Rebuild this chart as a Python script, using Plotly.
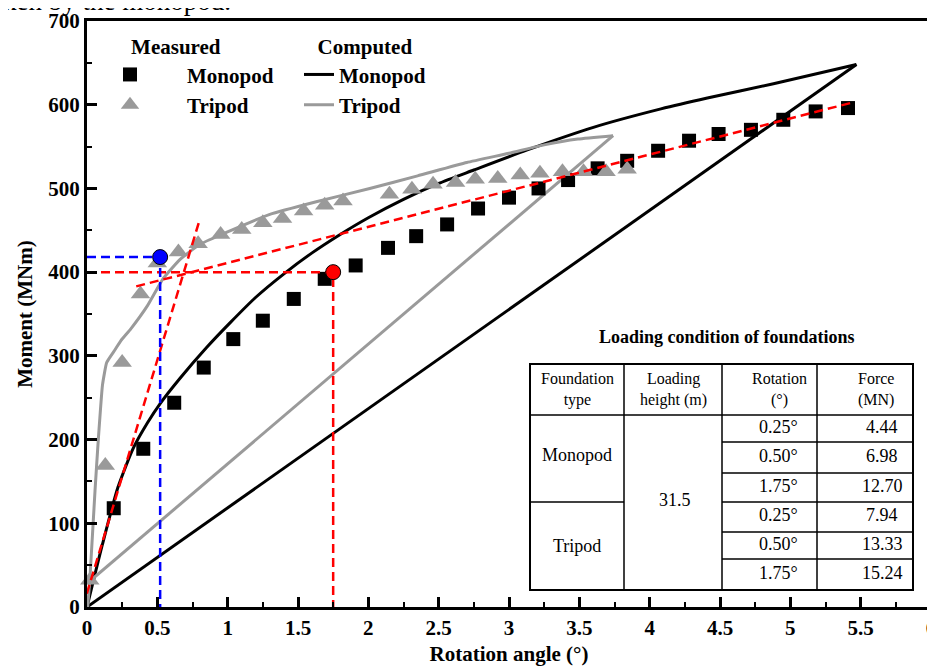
import plotly.graph_objects as go

# ---------------- data ----------------
# Measured monopod (squares)
mono_meas_x = [0.0, 0.19, 0.40, 0.62, 0.83, 1.04, 1.25, 1.47, 1.69, 1.91, 2.14, 2.34, 2.56,
               2.78, 3.00, 3.21, 3.42, 3.63, 3.84, 4.06, 4.28, 4.49, 4.72, 4.95, 5.18, 5.41]
mono_meas_y = [-4, 118, 189, 244, 286, 320, 342, 368, 392, 408, 429, 443, 457,
               476, 489, 500, 510, 524, 533, 545, 557, 565, 570, 582, 592, 596]

# Measured tripod (triangles)
tri_meas_x = [0.02, 0.13, 0.25, 0.38, 0.50, 0.65, 0.79, 0.95, 1.10, 1.25, 1.39, 1.54, 1.69,
              1.82, 2.15, 2.31, 2.46, 2.62, 2.76, 2.92, 3.08, 3.22, 3.38, 3.53, 3.69, 3.84]
tri_meas_y = [32, 169, 292, 374, 411, 424, 434, 445, 451, 459, 464, 473, 480,
              485, 493, 499, 505, 507, 511, 512, 516, 518, 520, 520, 520, 523]

# Computed monopod: loading branch and unloading branch
mono_load_x = [0.0, 0.11, 0.22, 0.33, 0.43, 0.52, 0.66, 0.85, 1.02, 1.20, 1.40, 1.60, 1.80,
               2.00, 2.25, 2.50, 2.75, 3.13, 3.60, 4.08, 4.41, 4.88, 5.47]
mono_load_y = [0, 75, 143, 190, 220, 243, 273, 310, 340, 370, 398, 423, 445,
               465, 487, 506, 522, 546, 573, 595, 608, 625, 648]
mono_unload_x = [5.47, 0.0]
mono_unload_y = [648, 0]

# Computed tripod: loading branch and unloading branch
tri_load_x = [0.005, 0.02, 0.057, 0.08, 0.11, 0.14, 0.19, 0.24, 0.31, 0.43, 0.54, 0.66, 0.80,
              0.97, 1.18, 1.30, 1.63, 2.01, 2.35, 2.70, 3.00, 3.25, 3.49, 3.74]
tri_load_y = [0, 32, 139, 199, 265, 292, 305, 318, 332, 360, 392, 415, 433,
              446, 461, 469, 484, 500, 515, 531, 542, 552, 559, 563]
tri_unload_x = [3.74, 0.0]
tri_unload_y = [563, 28]

# Red construction lines
red_steep_x = [-0.03, 0.80]
red_steep_y = [0, 462]
red_shallow_x = [0.35, 5.45]
red_shallow_y = [383, 603]
red_point_x = [1.75]
red_point_y = [400]
blue_point_x = [0.52]
blue_point_y = [418]

# Table content
tbl_title = "Loading condition of foundations"
tbl_header = ["Foundation<br>type", "Loading<br>height (m)", "Rotation<br>(°)", "Force<br>(MN)"]
tbl_types = ["Monopod", "Tripod"]
tbl_height = "31.5"
tbl_rotation = ["0.25°", "0.50°", "1.75°", "0.25°", "0.50°", "1.75°"]
tbl_force = ["4.44", "6.98", "12.70", "7.94", "13.33", "15.24"]

# ---------------- layout constants ----------------
OFF = 8                      # page body margin around the plot div
W, H = 935 - OFF, 666 - OFF
ML, MR, MT, MB = 87 - OFF, 4, 21 - OFF, 59
PW = W - ML - MR
PH = H - MT - MB
FONT = "Liberation Serif"
GRAY = "#9a9a9a"


def fx(px):
    """page pixel x -> paper fraction"""
    return (px - OFF - ML) / PW


def fy(py):
    """page pixel y -> paper fraction"""
    return (H - MB - (py - OFF)) / PH


fig = go.Figure()

# computed curves
fig.add_trace(go.Scatter(x=mono_load_x, y=mono_load_y, mode="lines", name="Monopod",
                         line=dict(color="black", width=3, shape="spline", smoothing=0.6),
                         legend="legend2", legendrank=1, legendgroup="cm"))
fig.add_trace(go.Scatter(x=mono_unload_x, y=mono_unload_y, mode="lines", showlegend=False,
                         line=dict(color="black", width=3), legendgroup="cm"))
fig.add_trace(go.Scatter(x=tri_load_x, y=tri_load_y, mode="lines", name="Tripod",
                         line=dict(color=GRAY, width=3, shape="spline", smoothing=0.4),
                         legend="legend2", legendrank=2, legendgroup="ct"))
fig.add_trace(go.Scatter(x=tri_unload_x, y=tri_unload_y, mode="lines", showlegend=False,
                         line=dict(color=GRAY, width=3), legendgroup="ct"))

# measured points
fig.add_trace(go.Scatter(x=mono_meas_x, y=mono_meas_y, mode="markers", name="Monopod",
                         marker=dict(symbol="square", size=14, color="black"),
                         cliponaxis=False, legend="legend", legendrank=1, legendgroup="mm"))
fig.add_trace(go.Scatter(x=tri_meas_x, y=tri_meas_y, mode="markers", name="Tripod",
                         marker=dict(symbol="triangle-up", size=17, color=GRAY),
                         cliponaxis=False, legend="legend", legendrank=2, legendgroup="mt"))

# construction lines
dash = "9px,5px"
fig.add_trace(go.Scatter(x=red_steep_x, y=red_steep_y, mode="lines", showlegend=False,
                         line=dict(color="red", width=2.5, dash=dash)))
fig.add_trace(go.Scatter(x=red_shallow_x, y=red_shallow_y, mode="lines", showlegend=False,
                         line=dict(color="red", width=2.5, dash=dash)))
fig.add_trace(go.Scatter(x=[0, red_point_x[0], red_point_x[0]],
                         y=[red_point_y[0], red_point_y[0], 0], mode="lines", showlegend=False,
                         line=dict(color="red", width=2.5, dash=dash)))
fig.add_trace(go.Scatter(x=[0, blue_point_x[0], blue_point_x[0]],
                         y=[blue_point_y[0], blue_point_y[0], 0], mode="lines", showlegend=False,
                         line=dict(color="blue", width=2.5, dash=dash)))
fig.add_trace(go.Scatter(x=red_point_x, y=red_point_y, mode="markers", showlegend=False,
                         marker=dict(symbol="circle", size=15, color="red",
                                     line=dict(color="black", width=1))))
fig.add_trace(go.Scatter(x=blue_point_x, y=blue_point_y, mode="markers", showlegend=False,
                         marker=dict(symbol="circle", size=15, color="blue",
                                     line=dict(color="black", width=1))))

# ---------------- table (shapes + annotations) ----------------
cols = [530, 624, 722, 817, 913]
top, hdr_bot = 364, 415
rows = [415, 442, 473, 502, 532, 559, 590]
bot = rows[-1]
shapes = []


def hline(x0, x1, y, w=1.5):
    shapes.append(dict(type="line", xref="paper", yref="paper", x0=fx(x0), x1=fx(x1),
                       y0=fy(y), y1=fy(y), line=dict(color="black", width=w)))


def vline(x, y0, y1, w=1.5):
    shapes.append(dict(type="line", xref="paper", yref="paper", x0=fx(x), x1=fx(x),
                       y0=fy(y0), y1=fy(y1), line=dict(color="black", width=w)))


shapes.append(dict(type="rect", xref="paper", yref="paper", x0=fx(cols[0]), x1=fx(cols[-1]),
                   y0=fy(bot), y1=fy(top), line=dict(color="black", width=2)))
for c in cols[1:-1]:
    vline(c, top, bot)
hline(cols[0], cols[-1], hdr_bot)
hline(cols[0], cols[1], rows[3])
for r in rows[1:-1]:
    hline(cols[2], cols[4], r)

annotations = []


def txt(s, px, py, size=18, bold=False, xanchor="center"):
    annotations.append(dict(text=s, xref="paper", yref="paper", x=fx(px), y=fy(py),
                            xanchor=xanchor, yanchor="middle", showarrow=False,
                            font=dict(family=FONT, size=size, color="black",
                                      weight="bold" if bold else "normal")))


txt(tbl_title, 727, 337, size=18, bold=True)
hdr_x = [577, 673, 779, 876]
for s, x in zip(tbl_header, hdr_x):
    txt(s, x, 389, size=16)
txt(tbl_types[0], 577, 455)
txt(tbl_types[1], 577, 546)
txt(tbl_height, 675, 500)
for i in range(6):
    yc = (rows[i] + rows[i + 1]) / 2 - 2
    txt(tbl_rotation[i], 778, yc)
    txt(tbl_force[i], 882, yc)

# clipped text fragment from page above the figure
annotations.append(dict(text="ken by the monopod.", xref="paper", yref="paper",
                        x=fx(233), y=1, xanchor="right", yanchor="bottom", yshift=3,
                        showarrow=False, font=dict(family=FONT, size=27, color="black")))

axis_common = dict(showline=True, linewidth=3, linecolor="black", mirror=True,
                   ticks="inside", ticklen=10, tickwidth=2.5, tickcolor="black",
                   showgrid=False, zeroline=False, ticklabeloverflow="allow",
                   tickfont=dict(family=FONT, size=21, color="black", weight="bold"))

fig.update_layout(
    width=W, height=H,
    margin=dict(l=ML, r=MR, t=MT, b=MB, autoexpand=False),
    plot_bgcolor="white", paper_bgcolor="white",
    xaxis=dict(range=[0, 6], dtick=0.5,
               minor=dict(dtick=0.25, ticks="inside", ticklen=5, tickwidth=2, tickcolor="black"),
               title=dict(text="Rotation angle (°)", standoff=8,
                          font=dict(family=FONT, size=21, color="black", weight="bold")),
               **axis_common),
    yaxis=dict(range=[0, 700], dtick=100,
               minor=dict(dtick=50, ticks="inside", ticklen=5, tickwidth=2, tickcolor="black"),
               title=dict(text="Moment (MNm)", standoff=10,
                          font=dict(family=FONT, size=21, color="black", weight="bold")),
               **axis_common),
    legend=dict(x=fx(73), y=fy(27), xanchor="left", yanchor="top",
                bgcolor="rgba(0,0,0,0)", itemwidth=104, traceorder="normal",
                title=dict(text="Measured", side="top center",
                           font=dict(family=FONT, size=21, color="black", weight="bold")),
                font=dict(family=FONT, size=21, color="black", weight="bold")),
    legend2=dict(x=fx(299), y=fy(27), xanchor="left", yanchor="top",
                 bgcolor="rgba(0,0,0,0)", itemwidth=30, traceorder="normal",
                 title=dict(text="Computed", side="top center",
                            font=dict(family=FONT, size=21, color="black", weight="bold")),
                 font=dict(family=FONT, size=21, color="black", weight="bold")),
    shapes=shapes,
    annotations=annotations,
)

fig.write_html("out.html")
